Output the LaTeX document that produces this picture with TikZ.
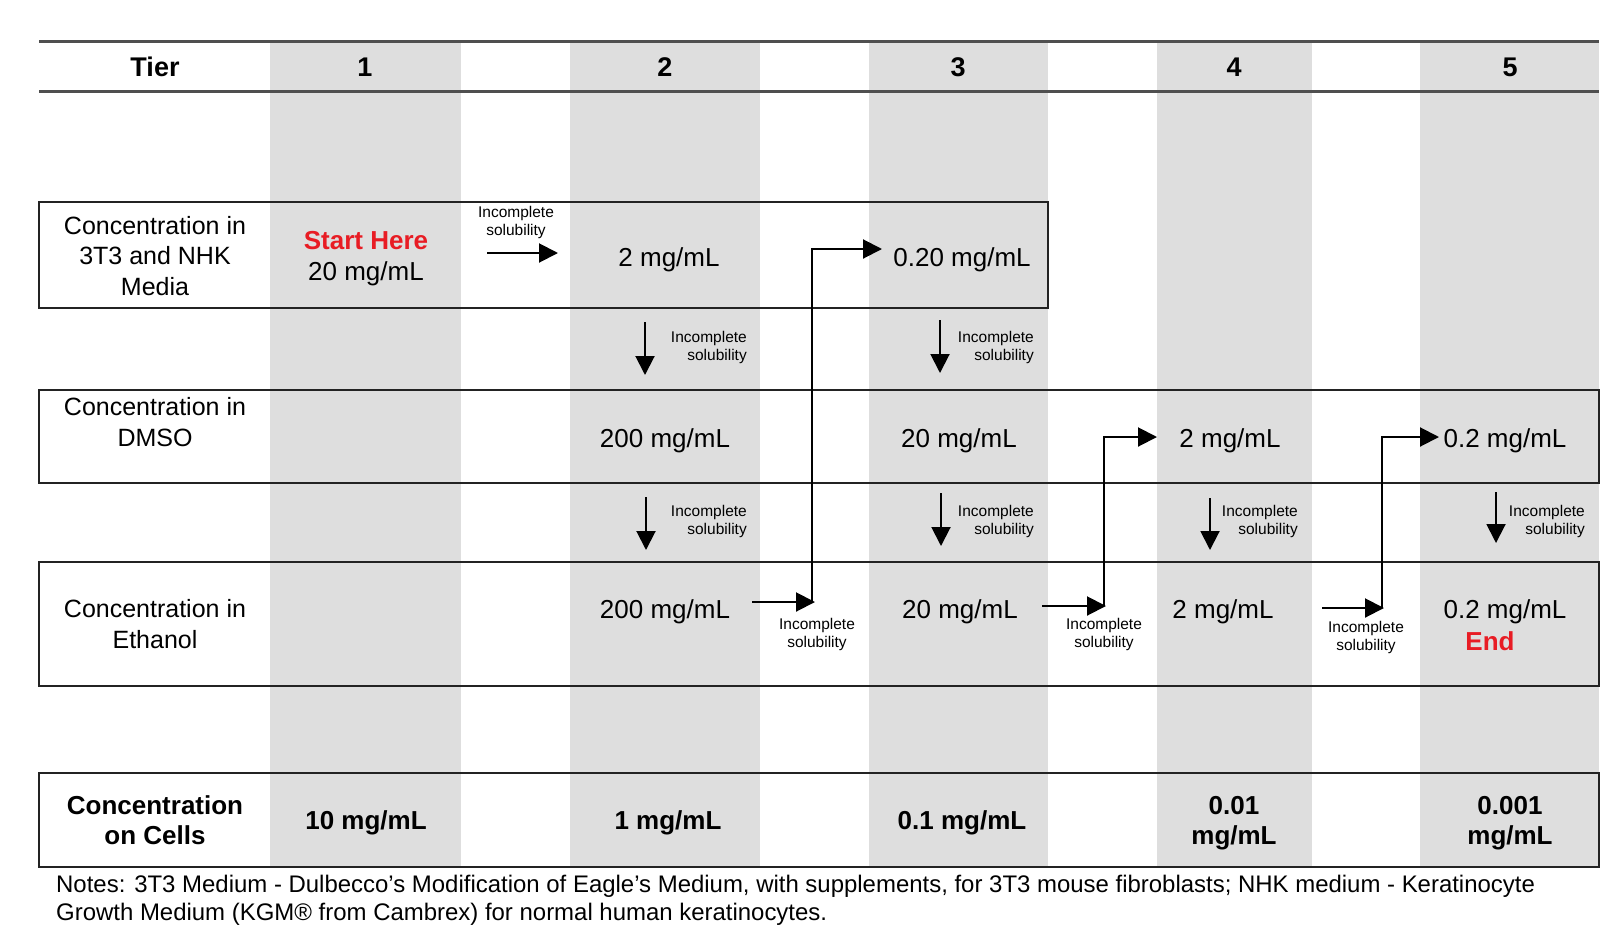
\documentclass[tikz,border=0pt]{standalone}
\usepackage{fontspec}
\setmainfont{Liberation Sans}
\usetikzlibrary{arrows.meta}
\definecolor{colgray}{RGB}{222,222,222}
\definecolor{endred}{RGB}{232,28,36}
\definecolor{rulec}{RGB}{35,35,35}
\tikzset{
  val/.style={font=\fontsize{26}{31}\selectfont, inner sep=0pt},
  rowlab/.style={font=\fontsize{25}{30.5}\selectfont, align=center, inner sep=0pt},
  boldval/.style={font=\bfseries\fontsize{26}{30}\selectfont, align=center, inner sep=0pt},
  hdr/.style={font=\bfseries\fontsize{27}{30}\selectfont, inner sep=0pt},
  redlab/.style={font=\bfseries\fontsize{26}{31}\selectfont, text=endred, inner sep=0pt},
  small/.style={font=\fontsize{15.5}{18}\selectfont, inner sep=0pt},
  smallr/.style={small, align=right, anchor=east},
  smallc/.style={small, align=center},
  arr/.style={line width=2pt, -{Triangle[length=19pt,width=19pt]}},
  boxline/.style={draw=rulec, line width=2pt},
  hrule/.style={draw=rulec!80, line width=3pt},
  notes/.style={font=\fontsize{23.95}{28.5}\selectfont, align=left, anchor=north west, inner sep=0pt}
}
\begin{document}
\begin{tikzpicture}[x=1pt,y=-1pt]
\useasboundingbox (0,0) rectangle (1617,929);
\fill[white] (0,0) rectangle (1617,929);
% grey tier columns
\fill[colgray] (270,41) rectangle (461,867);
\fill[colgray] (570,41) rectangle (760,867);
\fill[colgray] (869,41) rectangle (1048,867);
\fill[colgray] (1157,41) rectangle (1312,867);
\fill[colgray] (1420,41) rectangle (1599,867);
% header rules
\draw[hrule] (39,41) -- (1599,41);
\draw[hrule] (39,91) -- (1599,91);
% row boxes
\draw[boxline] (39,202) rectangle (1048,308);
\draw[boxline] (39,390) rectangle (1599,483);
\draw[boxline] (39,562) rectangle (1599,686);
\draw[boxline] (39,773) rectangle (1599,867);
% header
\node[hdr] (tier) at (155,67) {Tier};
\node[hdr] (t1) at (365,67) {1};
\node[hdr] (t2) at (665,67) {2};
\node[hdr] (t3) at (958,67) {3};
\node[hdr] (t4) at (1234,67) {4};
\node[hdr] (t5) at (1510,67) {5};
% row labels
\node[rowlab] (lmed) at (155,256) {Concentration in\\3T3 and NHK\\Media};
\node[rowlab] (ldmso) at (155,422) {Concentration in\\DMSO};
\node[rowlab] (leth) at (155,624) {Concentration in\\Ethanol};
\node[boldval] (lcell) at (155,820) {Concentration\\on Cells};
% media row
\node[redlab] (start) at (366,241) {Start Here};
\node[val] (m20) at (366,273.5) {20 mg/mL};
\node[val] (m2) at (669,259.5) {2 mg/mL};
\node[val] (m020) at (962,259.5) {0.20 mg/mL};
% dmso row
\node[val] (d200) at (665,440.5) {200 mg/mL};
\node[val] (d20) at (959,440.5) {20 mg/mL};
\node[val] (d2) at (1230,440.5) {2 mg/mL};
\node[val] (d02) at (1505,440.5) {0.2 mg/mL};
% ethanol row
\node[val] (e200) at (665,611.5) {200 mg/mL};
\node[val] (e20) at (960,612) {20 mg/mL};
\node[val] (e2) at (1223,611.5) {2 mg/mL};
\node[val] (e02) at (1505,611.5) {0.2 mg/mL};
\node[redlab] (endl) at (1490,641) {End};
% cells row
\node[boldval] (c10) at (366,823) {10 mg/mL};
\node[boldval] (c1) at (668,823) {1 mg/mL};
\node[boldval] (c01) at (962,823) {0.1 mg/mL};
\node[boldval] (c001) at (1234,823) {0.01\\mg/mL};
\node[boldval] (c0001) at (1510,823) {0.001\\mg/mL};
% ---- connectors ----
% media tier1 -> tier2
\coordinate (a0s) at (487,253);
\coordinate (a0t) at (558,253);
\draw[arr] (a0s) -- (a0t);
\node[smallc] (l0) at (516,222) {Incomplete\\solubility};
% media -> dmso (down)
\coordinate (dm2s) at (645,322);
\coordinate (dm2t) at (645,375);
\draw[arr] (dm2s) -- (dm2t);
\node[smallr] (ldm2) at (747,347) {Incomplete\\solubility};
\coordinate (dm3s) at (940,320);
\coordinate (dm3t) at (940,373);
\draw[arr] (dm3s) -- (dm3t);
\node[smallr] (ldm3) at (1034,347) {Incomplete\\solubility};
% dmso -> ethanol (down)
\coordinate (de2s) at (646,497);
\coordinate (de2t) at (646,550);
\draw[arr] (de2s) -- (de2t);
\node[smallr] (lde2) at (747,521) {Incomplete\\solubility};
\coordinate (de3s) at (941,493);
\coordinate (de3t) at (941,546);
\draw[arr] (de3s) -- (de3t);
\node[smallr] (lde3) at (1034,521) {Incomplete\\solubility};
\coordinate (de4s) at (1210,498);
\coordinate (de4t) at (1210,550);
\draw[arr] (de4s) -- (de4t);
\node[smallr] (lde4) at (1298,521) {Incomplete\\solubility};
\coordinate (de5s) at (1496,492);
\coordinate (de5t) at (1496,543);
\draw[arr] (de5s) -- (de5t);
\node[smallr] (lde5) at (1585,521) {Incomplete\\solubility};
% ethanol tier2 -> media tier3
\coordinate (h1s) at (752,602);
\coordinate (h1t) at (815,602);
\coordinate (v1b) at (812,602);
\coordinate (v1t) at (812,249);
\coordinate (v1e) at (882,249);
\draw[arr] (h1s) -- (h1t);
\draw[arr] (v1b) -- (v1t) -- (v1e);
\node[smallc] (lh1) at (817,634) {Incomplete\\solubility};
% ethanol tier3 -> dmso tier4
\coordinate (h2s) at (1042,606);
\coordinate (h2t) at (1106,606);
\coordinate (v2b) at (1104,606);
\coordinate (v2t) at (1104,437);
\coordinate (v2e) at (1157,437);
\draw[arr] (h2s) -- (h2t);
\draw[arr] (v2b) -- (v2t) -- (v2e);
\node[smallc] (lh2) at (1104,634) {Incomplete\\solubility};
% ethanol tier4 -> dmso tier5
\coordinate (h3s) at (1322,608);
\coordinate (h3t) at (1384,608);
\coordinate (v3b) at (1382,608);
\coordinate (v3t) at (1382,437);
\coordinate (v3e) at (1439,437);
\draw[arr] (h3s) -- (h3t);
\draw[arr] (v3b) -- (v3t) -- (v3e);
\node[smallc] (lh3) at (1366,637) {Incomplete\\solubility};
% notes
\node[notes] (nts) at (56,874.5) {Notes: 3T3 Medium - Dulbecco’s Modification of Eagle’s Medium, with supplements, for 3T3 mouse fibroblasts; NHK medium - Keratinocyte\\Growth Medium (KGM® from Cambrex) for normal human keratinocytes.};
\end{tikzpicture}
\end{document}
